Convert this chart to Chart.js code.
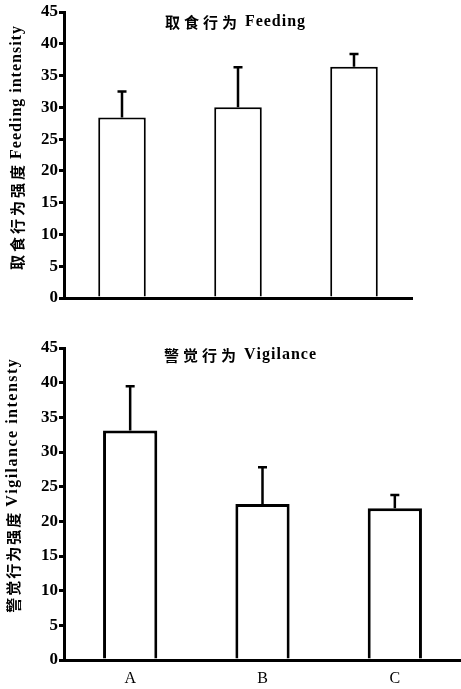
<!DOCTYPE html>
<html>
<head>
<meta charset="utf-8">
<script src="https://cdn.jsdelivr.net/npm/chart.js@4/dist/chart.umd.min.js"></script>
<style>
  html, body { margin: 0; padding: 0; background: #fff; }
  .box { position: absolute; left: 0; width: 461px; }
</style>
</head>
<body>
<div class="box" style="top:0;height:310px"><canvas id="feeding" width="461" height="310"></canvas></div>
<div class="box" style="top:330px;height:359px"><canvas id="vigilance" width="461" height="359"></canvas></div>
<script>
// groups on the x axis
const groups = ["A", "B", "C"];

// feeding intensity: means and upper error (SE)
const feedingMean = [28.4, 30.0, 36.4];
const feedingErr = [4.1, 6.3, 2.0];

// vigilance intensity: means and upper error (SE)
const vigilanceMean = [33.1, 22.5, 21.9];
const vigilanceErr = [6.4, 5.3, 1.9];

// y axis range
const yMin = 0;
const yMax = 45;
const yStep = 5;

const SERIF = "'Liberation Serif', 'DejaVu Serif', serif";
const CJK = "'Noto Sans CJK SC', sans-serif";

// draws text char by char so the letter spacing can follow the scan
function spacedText(ctx, parts, x, y, rotate) {
  ctx.save();
  ctx.translate(x, y);
  if (rotate) ctx.rotate(-Math.PI / 2);
  ctx.fillStyle = "#000";
  ctx.textBaseline = "middle";
  ctx.textAlign = "left";
  let total = 0;
  parts.forEach((p, pi) => {
    ctx.font = p.font;
    [...p.text].forEach((ch, i) => {
      total += ctx.measureText(ch).width + (i < p.text.length - 1 ? p.spacing : 0);
    });
    if (pi < parts.length - 1) total += p.gap;
  });
  let cx = -total / 2;
  parts.forEach((p) => {
    ctx.font = p.font;
    [...p.text].forEach((ch, i) => {
      ctx.fillText(ch, cx, 0);
      cx += ctx.measureText(ch).width + (i < p.text.length - 1 ? p.spacing : 0);
    });
    cx += p.gap;
  });
  ctx.restore();
}

const errorBars = {
  id: "errorBars",
  afterDatasetsDraw(chart, args, opts) {
    const ctx = chart.ctx;
    const ds = chart.data.datasets[0];
    const y = chart.scales.y;
    chart.getDatasetMeta(0).data.forEach((bar, i) => {
      const top = y.getPixelForValue(ds.data[i] + ds.errors[i]);
      ctx.save();
      ctx.strokeStyle = "#000";
      ctx.lineWidth = opts.width;
      ctx.beginPath();
      ctx.moveTo(bar.x, bar.y);
      ctx.lineTo(bar.x, top);
      ctx.moveTo(bar.x - opts.cap / 2, top);
      ctx.lineTo(bar.x + opts.cap / 2, top);
      ctx.stroke();
      ctx.restore();
    });
  }
};

const labels = {
  id: "labels",
  afterDraw(chart, args, opts) {
    const ctx = chart.ctx;
    spacedText(ctx, [
      { text: opts.titleZh, font: "bold 15px " + CJK, spacing: 4, gap: 8 },
      { text: opts.titleEn, font: "bold 16px " + SERIF, spacing: 1, gap: 0 }
    ], opts.titleX, opts.titleY, false);
    spacedText(ctx, [
      { text: opts.axisZh, font: "bold 15px " + CJK, spacing: opts.zhSpacing, gap: 6 },
      { text: opts.axisEn, font: "bold 16px " + SERIF, spacing: opts.enSpacing, gap: 0 }
    ], opts.axisX, opts.axisY, true);
  }
};

function makeChart(id, means, errs, o) {
  return new Chart(document.getElementById(id), {
    type: "bar",
    data: {
      labels: groups,
      datasets: [{
        data: means,
        errors: errs,
        backgroundColor: "#fff",
        borderColor: "#000",
        borderWidth: o.barBorder,
        barPercentage: 0.41,
        categoryPercentage: 1
      }]
    },
    options: {
      responsive: false,
      animation: false,
      layout: { padding: { top: o.padTop, right: o.padRight, left: 0, bottom: 0 } },
      plugins: {
        legend: { display: false },
        tooltip: { enabled: false },
        errorBars: { width: 2.5, cap: 9 },
        labels: o.labels
      },
      scales: {
        x: {
          grid: { display: false, drawTicks: false },
          border: { display: true, color: "#000", width: 3 },
          ticks: {
            display: o.showX, padding: 9, color: "#000",
            font: { family: SERIF, size: 16 }
          },
          afterFit: (s) => { s.height = o.xHeight; }
        },
        y: {
          min: yMin, max: yMax,
          ticks: {
            stepSize: yStep, color: "#000", padding: 1,
            font: { family: SERIF, size: 17, weight: "bold" }
          },
          grid: { drawOnChartArea: false, drawTicks: true, tickLength: 5, lineWidth: 3, color: "#000" },
          border: { display: true, color: "#000", width: 3 },
          afterFit: (s) => { s.width = 64; }
        }
      }
    },
    plugins: [errorBars, labels]
  });
}

makeChart("feeding", feedingMean, feedingErr, {
  barBorder: 2, padTop: 12, padRight: 49, xHeight: 12, showX: false,
  labels: {
    titleZh: "取食行为", titleEn: "Feeding", titleX: 235, titleY: 22,
    axisZh: "取食行为强度", axisEn: "Feeding intensity", axisX: 17, axisY: 148,
    zhSpacing: 3, enSpacing: 1
  }
});

makeChart("vigilance", vigilanceMean, vigilanceErr, {
  barBorder: 3, padTop: 18, padRight: 0, xHeight: 29, showX: true,
  labels: {
    titleZh: "警觉行为", titleEn: "Vigilance", titleX: 240, titleY: 25,
    axisZh: "警觉行为强度", axisEn: "Vigilance intensty", axisX: 13, axisY: 156,
    zhSpacing: 2, enSpacing: 1.5
  }
});
</script>
</body>
</html>
